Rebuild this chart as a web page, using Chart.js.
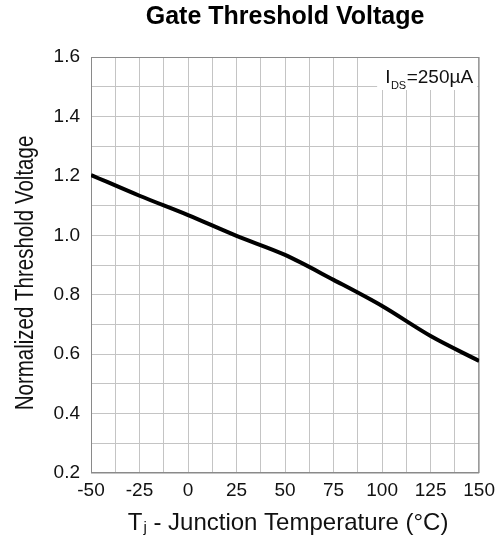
<!DOCTYPE html>
<html>
<head>
<meta charset="utf-8">
<script src="https://cdn.jsdelivr.net/npm/chart.js@4/dist/chart.umd.min.js"></script>
<style>
  html, body { margin: 0; padding: 0; background: #fff; }
  #wrap { width: 501px; height: 541px; }
</style>
</head>
<body>
<div id="wrap"><canvas id="Chart1" width="501" height="541"></canvas></div>
<script>
// values
var temps = [-50, -25, 0, 25, 50, 75, 100, 125, 150];
var vthNorm = [1.203, 1.133, 1.068, 0.998, 0.934, 0.850, 0.762, 0.661, 0.577];
var xLabels = [-50, -25, 0, 25, 50, 75, 100, 125, 150];
var yLabels = [0.2, 0.4, 0.6, 0.8, 1.0, 1.2, 1.4, 1.6];

var FONT = "'Liberation Sans', Arial, sans-serif";

var extras = {
    id: 'extras',
    beforeDatasetsDraw: function(chart) {
        var a = chart.chartArea, ctx = chart.ctx;
        ctx.save();
        ctx.strokeStyle = '#8a8a8a';
        ctx.lineWidth = 1;
        ctx.strokeRect(a.left + 0.5, a.top + 0.5, a.right - a.left - 1, a.bottom - a.top - 1);
        ctx.restore();
    },
    afterDraw: function(chart) {
        var a = chart.chartArea, ctx = chart.ctx;
        ctx.save();
        // condition label box, top right
        ctx.fillStyle = '#fff';
        ctx.fillRect(a.right - 102, a.top + 1, 100, 32);
        ctx.fillStyle = '#111';
        ctx.textBaseline = 'alphabetic';
        ctx.textAlign = 'left';
        var x = a.right - 94;
        ctx.font = '19px ' + FONT;
        ctx.fillText('I', x, a.top + 25.5);
        x += ctx.measureText('I').width + 0.5;
        ctx.font = '11px ' + FONT;
        ctx.fillText('DS', x, a.top + 32);
        x += ctx.measureText('DS').width + 0.5;
        ctx.font = '19px ' + FONT;
        ctx.fillText('=250\u00B5A', x, a.top + 25.5);

        // x axis title with subscript j
        var main1 = 'T', sub = 'j', main2 = ' - Junction Temperature (\u00B0C)';
        ctx.font = '24px ' + FONT;
        var w1 = ctx.measureText(main1).width, w3 = ctx.measureText(main2).width;
        ctx.font = '15px ' + FONT;
        var w2 = ctx.measureText(sub).width + 1;
        var total = w1 + w2 + w3;
        var cx = (a.left + a.right) / 2 + 3;
        x = cx - total / 2;
        var base = 530;
        ctx.font = '24px ' + FONT;
        ctx.fillText(main1, x, base);
        ctx.font = '15px ' + FONT;
        ctx.fillText(sub, x + w1 + 1, base + 2);
        ctx.font = '24px ' + FONT;
        ctx.fillText(main2, x + w1 + w2, base);

        // y axis title, rotated and a bit narrow like the original
        ctx.translate(33, 273);
        ctx.rotate(-Math.PI / 2);
        ctx.scale(0.82, 1);
        ctx.textAlign = 'center';
        ctx.font = '25px ' + FONT;
        ctx.fillText('Normalized Threshold Voltage', 0, 0);
        ctx.restore();
    }
};

var ctx = document.getElementById('Chart1').getContext('2d');
window.vth_chart = new Chart(ctx, {
    type: 'line',
    data: {
        labels: temps,
        datasets: [{
            label: 'Normalized Threshold Voltage',
            data: temps.map(function(t, i) { return {x: t, y: vthNorm[i]}; }),
            borderColor: '#000',
            borderWidth: 4,
            pointRadius: 0,
            cubicInterpolationMode: 'monotone',
            fill: false
        }]
    },
    options: {
        responsive: false,
        animation: false,
        layout: { padding: { left: 0, right: 20, top: 0, bottom: 0 } },
        plugins: {
            legend: { display: false },
            tooltip: { enabled: false },
            title: {
                display: true,
                text: 'Gate Threshold Voltage',
                fullSize: false,
                color: '#000',
                font: { family: FONT, size: 25, weight: 'bold' },
                padding: { top: 2, bottom: 25 }
            }
        },
        scales: {
            x: {
                type: 'linear',
                min: -50,
                max: 150,
                afterFit: function(scale) { scale.height = 68; },
                afterBuildTicks: function(scale) {
                    var t = [];
                    for (var v = -50; v <= 150; v += 12.5) t.push({value: v});
                    scale.ticks = t;
                },
                grid: { color: '#c4c4c4', drawTicks: false },
                border: { display: false },
                ticks: {
                    padding: 6,
                    color: '#111',
                    maxRotation: 0,
                    autoSkip: false,
                    font: { family: FONT, size: 19 },
                    callback: function(v) { return xLabels.indexOf(v) >= 0 ? String(v) : ''; }
                }
            },
            y: {
                type: 'linear',
                min: 0.2,
                max: 1.6,
                afterFit: function(scale) { scale.width = 91; },
                afterBuildTicks: function(scale) {
                    var t = [];
                    for (var k = 2; k <= 16; k++) t.push({value: k / 10});
                    scale.ticks = t;
                },
                grid: { color: '#c4c4c4', drawTicks: false },
                border: { display: false },
                ticks: {
                    padding: 11,
                    color: '#111',
                    autoSkip: false,
                    font: { family: FONT, size: 19 },
                    callback: function(v) {
                        var k = Math.round(v * 10);
                        return k % 2 === 0 ? (k / 10).toFixed(1) : '';
                    }
                }
            }
        }
    },
    plugins: [extras]
});
</script>
</body>
</html>
